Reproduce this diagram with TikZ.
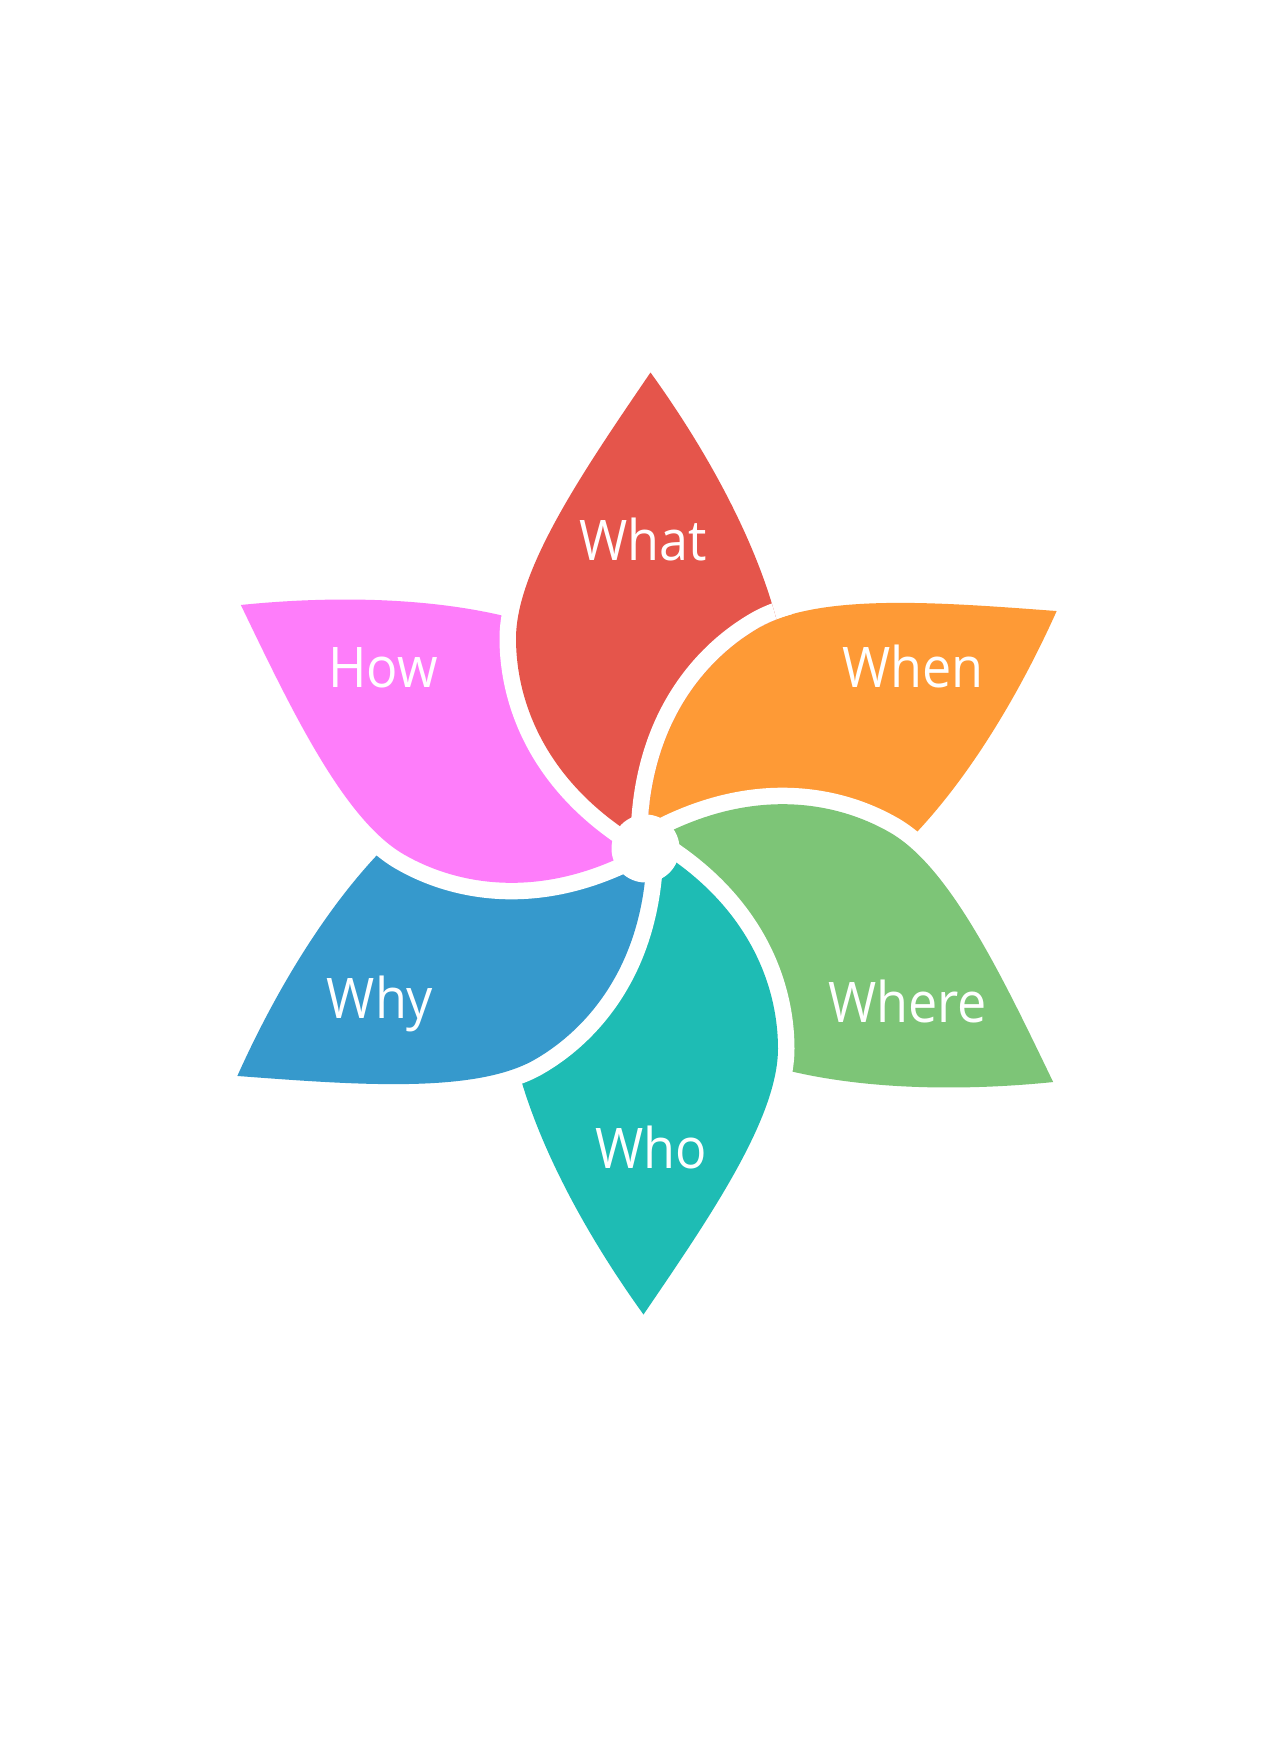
\documentclass[tikz,border=0pt]{standalone}
\usepackage{fontspec}
\setmainfont{Open Sans}[FakeStretch=0.93]
\definecolor{cRed}{HTML}{E5554B}
\definecolor{cOrange}{HTML}{FE9A36}
\definecolor{cGreen}{HTML}{7DC577}
\definecolor{cTeal}{HTML}{1EBCB4}
\definecolor{cBlue}{HTML}{3699CC}
\definecolor{cPink}{HTML}{FE7DFA}
\def\petal{(0,0) .. controls (-104,60) and (-131,145) .. (-131,205) .. controls (-131,275) and (-61.2,376) .. (3.5,471) .. controls (62,390) and (117,290) .. (135,200) .. controls (110,150) and (60,85) .. (25,50) -- (0,0) -- cycle}
\tikzset{
  halo/.style={draw=white, line width=33, line join=round},
  lbl/.style={text=white, font=\fontsize{56}{60}\selectfont, inner sep=0pt, anchor=base}
}
\begin{document}
\begin{tikzpicture}[x=1pt,y=1pt]
\useasboundingbox[fill=white] (0,0) rectangle (1271,-1754);
\begin{scope}[shift={(647,-843.5)}]
  \foreach \ang/\col in {0/cRed,-60/cOrange,-120/cGreen,-180/cTeal,-240/cBlue,-300/cPink}{
    \begin{scope}[rotate=\ang]
      \draw[halo] \petal;
      \fill[\col] \petal;
    \end{scope}
  }
  % red back on top of pink, kept under orange
  \begin{scope}[rotate=-60, even odd rule]
    \clip (-3000,-3000) rectangle (3000,3000) \petal;
    \begin{scope}[rotate=60, nonzero rule]
      \draw[halo] \petal;
      \fill[cRed] \petal;
    \end{scope}
  \end{scope}
  \begin{scope}
    \clip \petal;
    \begin{scope}[rotate=-60, even odd rule]
      \clip (-3000,-3000) rectangle (3000,3000) \petal;
      \draw[halo, nonzero rule] \petal;
    \end{scope}
  \end{scope}
  \fill[white] (-1.5,-5) circle (34);
\end{scope}
\node[lbl] (what) at (643,-560) {What};
\node[lbl] (when) at (913,-687) {When};
\node[lbl] (where) at (907.5,-1022) {Where};
\node[lbl] (who) at (651,-1168) {Who};
\node[lbl] (why) at (380,-1018) {Why};
\node[lbl] (how) at (383,-687) {How};
\end{tikzpicture}
\end{document}
